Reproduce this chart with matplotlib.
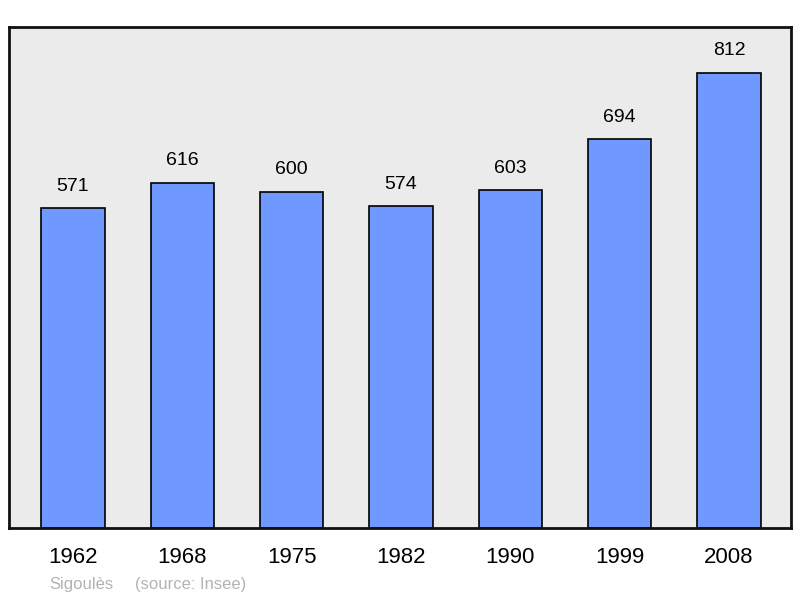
import numpy as np
import matplotlib.pyplot as plt

# Population of Sigoulès by census year
years = ['1962', '1968', '1975', '1982', '1990', '1999', '2008']
population = [571, 616, 600, 574, 603, 694, 812]

plt.rcParams['font.family'] = ['Liberation Sans', 'DejaVu Sans']

fig = plt.figure(figsize=(8, 5.98), dpi=100)
ax = fig.add_axes([9 / 800, 1 - 528 / 598, 782 / 800, 501 / 598])
ax.set_facecolor('#ebebeb')

x_pos = np.arange(len(years))
bars = ax.bar(x_pos, population, width=0.58, color='#7099ff',
              edgecolor='black', linewidth=1.2, zorder=2)

for xp, val in zip(x_pos, population):
    ax.annotate(str(val), (xp, val), xytext=(0, 22), textcoords='offset pixels',
                ha='center', va='center', fontsize=14)

ax.set_xlim(-0.585, 6.567)
ax.set_ylim(0, 894)
ax.set_yticks([])
ax.set_xticks(x_pos)
ax.set_xticklabels(years, fontsize=16)
ax.tick_params(axis='x', length=0, pad=14)
for s in ax.spines.values():
    s.set_linewidth(2)
    s.set_color('#111111')

fig.text(49 / 800, 1 - 585 / 598, 'Sigoulès', color='#b3b3b3', fontsize=12, va='center')
fig.text(135 / 800, 1 - 585 / 598, '(source: Insee)', color='#b3b3b3', fontsize=12, va='center')

fig.savefig('out.png', dpi=100)
